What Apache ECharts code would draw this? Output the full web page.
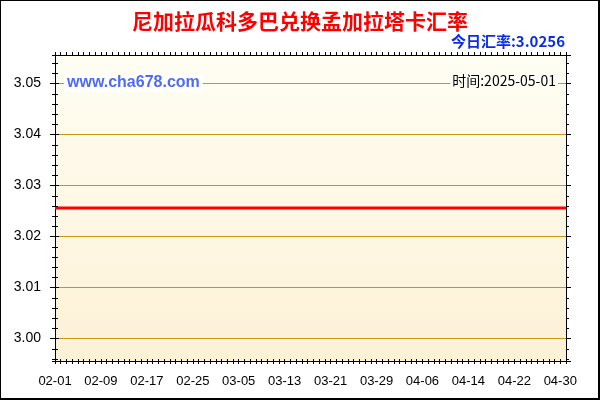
<!DOCTYPE html>
<html>
<head>
<meta charset="utf-8">
<script src="https://cdn.jsdelivr.net/npm/echarts@6/dist/echarts.min.js"></script>
<style>
html,body{margin:0;padding:0;background:#fff;}
#wrap{position:relative;width:600px;height:400px;}
#chart{position:absolute;left:0;top:0;width:600px;height:400px;}
#frame{position:absolute;left:0;top:0;width:600px;height:400px;box-sizing:border-box;border-left:1px solid #000;border-top:1px solid #000;border-right:2px solid #000;border-bottom:2px solid #000;pointer-events:none;}
</style>
</head>
<body>
<div id="wrap"><div id="chart"></div><div id="frame"></div></div>
<script>
var titleText = '尼加拉瓜科多巴兑换孟加拉塔卡汇率';
var todayRateText = '今日汇率:3.0256';
var siteText = 'www.cha678.com';
var timeText = '时间:2025-05-01';

var categories = [
'02-01','02-02','02-03','02-04','02-05','02-06','02-07','02-08','02-09','02-10',
'02-11','02-12','02-13','02-14','02-15','02-16','02-17','02-18','02-19','02-20',
'02-21','02-22','02-23','02-24','02-25','02-26','02-27','02-28',
'03-01','03-02','03-03','03-04','03-05','03-06','03-07','03-08','03-09','03-10',
'03-11','03-12','03-13','03-14','03-15','03-16','03-17','03-18','03-19','03-20',
'03-21','03-22','03-23','03-24','03-25','03-26','03-27','03-28','03-29','03-30','03-31',
'04-01','04-02','04-03','04-04','04-05','04-06','04-07','04-08','04-09','04-10',
'04-11','04-12','04-13','04-14','04-15','04-16','04-17','04-18','04-19','04-20',
'04-21','04-22','04-23','04-24','04-25','04-26','04-27','04-28','04-29','04-30',
'05-01'
];

var rates = [
3.0256,3.0256,3.0256,3.0256,3.0256,3.0256,3.0256,3.0256,3.0256,3.0256,
3.0256,3.0256,3.0256,3.0256,3.0256,3.0256,3.0256,3.0256,3.0256,3.0256,
3.0256,3.0256,3.0256,3.0256,3.0256,3.0256,3.0256,3.0256,
3.0256,3.0256,3.0256,3.0256,3.0256,3.0256,3.0256,3.0256,3.0256,3.0256,
3.0256,3.0256,3.0256,3.0256,3.0256,3.0256,3.0256,3.0256,3.0256,3.0256,
3.0256,3.0256,3.0256,3.0256,3.0256,3.0256,3.0256,3.0256,3.0256,3.0256,3.0256,
3.0256,3.0256,3.0256,3.0256,3.0256,3.0256,3.0256,3.0256,3.0256,3.0256,
3.0256,3.0256,3.0256,3.0256,3.0256,3.0256,3.0256,3.0256,3.0256,3.0256,
3.0256,3.0256,3.0256,3.0256,3.0256,3.0256,3.0256,3.0256,3.0256,3.0256,
3.0256
];

var yMin = 2.9956;
var yMax = 3.0556;

var chart = echarts.init(document.getElementById('chart'), null, {renderer: 'canvas'});

function majorLabel(v) {
  var k = v * 100;
  return Math.abs(k - Math.round(k)) < 1e-6 ? v.toFixed(2) : '';
}

var fontLatin = 'Liberation Sans, Arial, sans-serif';
var fontCJK = 'Noto Sans CJK SC, sans-serif';

function tickAxisY(pos, splitNumber, len, inside, z) {
  return {type: 'value', position: pos, min: yMin, max: yMax, splitNumber: splitNumber, z: z,
    axisLine: {show: false},
    axisTick: {show: true, length: len, inside: inside, lineStyle: {color: '#000'}},
    axisLabel: {show: false},
    splitLine: {show: false}};
}

var option = {
  animation: false,
  title: [
    {text: titleText, left: 'center', top: 11, padding: 0, textStyle: {color: '#FF0000', fontSize: 21, fontWeight: 'bold', fontFamily: fontCJK}},
    {text: todayRateText, right: 35, top: 34, padding: 0, textStyle: {color: '#0A2EE6', fontSize: 15, fontWeight: 'bold', fontFamily: fontCJK}},
    {text: siteText, left: 64, top: 74, padding: [1, 3, 1, 3], backgroundColor: '#FFFFFF', textStyle: {color: '#4F6BF2', fontSize: 16, fontWeight: 'bold', fontFamily: fontLatin}},
    {text: timeText, right: 42, top: 74, padding: [0, 2, 0, 2], backgroundColor: '#FFFEF6', textStyle: {color: '#000000', fontSize: 14, fontWeight: 'normal', fontFamily: fontCJK}}
  ],
  grid: {
    left: 55, top: 55, right: 34, bottom: 39,
    show: true, borderWidth: 0,
    backgroundColor: {type: 'linear', x: 0, y: 0, x2: 0, y2: 1, colorStops: [{offset: 0, color: '#FFFEF3'}, {offset: 1, color: '#FDF1D6'}]},
    containLabel: false
  },
  xAxis: [
    {type: 'category', position: 'bottom', data: categories, boundaryGap: false, z: 5,
     axisLine: {onZero: false, lineStyle: {color: '#000', width: 1}},
     axisTick: {show: true, interval: 0, length: 3, lineStyle: {color: '#000'}},
     axisLabel: {interval: 7, color: '#000', fontSize: 13, margin: 14, fontFamily: fontLatin},
     splitLine: {show: false}},
    {type: 'category', position: 'top', data: categories, boundaryGap: false, z: 5,
     axisLine: {onZero: false, lineStyle: {color: '#000', width: 1}},
     axisTick: {show: true, interval: 0, length: 3, lineStyle: {color: '#000'}},
     axisLabel: {show: false},
     splitLine: {show: false}},
    {type: 'category', position: 'bottom', data: categories, boundaryGap: false, z: 5,
     axisLine: {show: false, onZero: false},
     axisTick: {show: true, interval: 0, length: 2, inside: true, lineStyle: {color: '#000'}},
     axisLabel: {show: false},
     splitLine: {show: false}}
  ],
  yAxis: [
    {type: 'value', position: 'left', min: yMin, max: yMax, splitNumber: 6, z: 1,
     axisLine: {show: true, lineStyle: {color: '#000', width: 1}},
     axisTick: {show: true, length: 5, lineStyle: {color: '#000'}},
     axisLabel: {formatter: majorLabel, color: '#000', fontSize: 14, margin: 14, fontFamily: fontLatin, showMinLabel: false, showMaxLabel: false},
     splitLine: {show: true, lineStyle: {color: '#C8960F', width: 1}}},
    tickAxisY('left', 30, 3, false, 5),
    tickAxisY('left', 6, 4, true, 5),
    tickAxisY('left', 30, 3, true, 5),
    {type: 'value', position: 'right', min: yMin, max: yMax, splitNumber: 6, z: 5,
     axisLine: {show: true, lineStyle: {color: '#000', width: 1}},
     axisTick: {show: true, length: 5, lineStyle: {color: '#000'}},
     axisLabel: {show: false},
     splitLine: {show: false}},
    tickAxisY('right', 30, 3, false, 5)
  ],
  series: [
    {type: 'line', name: 'rate', data: rates, xAxisIndex: 0, yAxisIndex: 0,
     symbol: 'none', lineStyle: {color: '#FF0000', width: 3}, z: 3}
  ]
};
chart.setOption(option);
</script>
</body>
</html>
